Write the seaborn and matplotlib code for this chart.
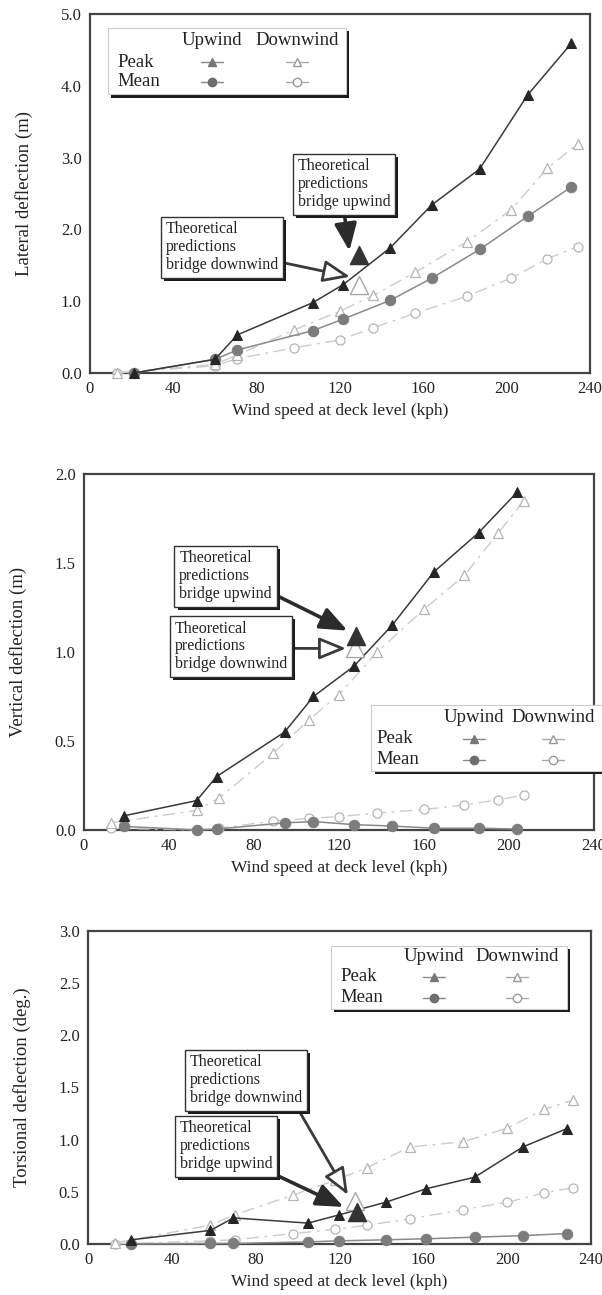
import matplotlib
matplotlib.use("Agg")
import matplotlib.pyplot as plt
import matplotlib.patheffects as pe
from matplotlib.patches import Rectangle
import seaborn as sns

# lateral deflection (m)
lat_up_x = [21, 60, 70.7, 107, 121.5, 144, 164, 187, 210, 231]
lat_up_peak = [0.0, 0.19, 0.53, 0.98, 1.23, 1.74, 2.34, 2.84, 3.87, 4.59]
lat_up_mean = [0.0, 0.19, 0.32, 0.59, 0.75, 1.01, 1.32, 1.72, 2.18, 2.59]
lat_dn_x = [13, 60, 70.7, 98, 120, 136, 156, 181, 202, 219.5, 234]
lat_dn_peak = [0.0, 0.12, 0.25, 0.60, 0.86, 1.08, 1.40, 1.83, 2.27, 2.85, 3.19]
lat_dn_mean = [0.0, 0.10, 0.20, 0.35, 0.46, 0.63, 0.83, 1.07, 1.32, 1.59, 1.76]
lat_theory_up = (129, 1.64)
lat_theory_dn = (129, 1.23)

# vertical deflection (m)
vert_up_x = [19, 53, 62.4, 94.4, 108, 127, 145, 164.7, 185.7, 204]
vert_up_peak = [0.08, 0.165, 0.30, 0.55, 0.75, 0.92, 1.15, 1.45, 1.67, 1.90]
vert_up_mean = [0.02, 0.0, 0.005, 0.04, 0.047, 0.03, 0.022, 0.01, 0.01, 0.005]
vert_dn_x = [12.5, 53, 63.6, 89, 106, 120, 138, 160, 179, 195, 207]
vert_dn_peak = [0.04, 0.11, 0.18, 0.43, 0.62, 0.76, 1.0, 1.24, 1.43, 1.67, 1.85]
vert_dn_mean = [0.01, 0.0, 0.01, 0.05, 0.065, 0.075, 0.095, 0.115, 0.14, 0.17, 0.195]
vert_theory_up = (128, 1.09)
vert_theory_dn = (127.5, 1.02)

# torsional deflection (deg.)
tor_up_x = [20.6, 58.4, 69.4, 105, 120, 142, 161.5, 184.5, 207.5, 228.4]
tor_up_peak = [0.04, 0.13, 0.25, 0.20, 0.28, 0.40, 0.53, 0.64, 0.93, 1.105]
tor_up_mean = [0.0, 0.005, 0.005, 0.02, 0.03, 0.04, 0.05, 0.065, 0.08, 0.10]
tor_dn_x = [12.7, 58.4, 70, 98, 118, 133, 153.6, 179, 200, 217.7, 231.5]
tor_dn_peak = [0.01, 0.18, 0.28, 0.47, 0.61, 0.73, 0.93, 0.98, 1.11, 1.29, 1.38]
tor_dn_mean = [0.0, 0.03, 0.04, 0.10, 0.14, 0.18, 0.24, 0.33, 0.40, 0.49, 0.54]
tor_theory_up = (128.4, 0.31)
tor_theory_dn = (127.5, 0.41)

x_ticks = [0, 40, 80, 120, 160, 200, 240]
note_up = "Theoretical\npredictions\nbridge upwind"
note_dn = "Theoretical\npredictions\nbridge downwind"

sns.set_theme(style="white")
plt.rcParams["font.family"] = ["Liberation Serif", "DejaVu Serif"]

UP_PEAK = dict(color="#3a3a3a", marker="^", ms=7, mfc="#262626", mec="#262626", lw=1.1)
UP_MEAN = dict(color="#8a8a8a", marker="o", ms=7.5, mfc="#7c7c7c", mec="#7c7c7c", lw=1.1)
DN_PEAK = dict(color="#cccccc", marker="^", ms=6.5, mfc="white", mec="#b4b4b4", mew=0.9,
               lw=1.0, linestyle=(0, (9, 4, 2, 4)))
DN_MEAN = dict(color="#cccccc", marker="o", ms=6.5, mfc="white", mec="#b4b4b4", mew=0.9,
               lw=1.0, linestyle=(0, (9, 4, 2, 4)))

SHADOW = [pe.SimplePatchShadow(offset=(2.5, -2.5), shadow_rgbFace="#1a1a1a", alpha=1), pe.Normal()]


def draw_series(ax, up_x, up_peak, up_mean, dn_x, dn_peak, dn_mean, th_up, th_dn):
    sns.lineplot(x=dn_x, y=dn_mean, ax=ax, errorbar=None, clip_on=False, zorder=3, **DN_MEAN)
    sns.lineplot(x=dn_x, y=dn_peak, ax=ax, errorbar=None, clip_on=False, zorder=3, **DN_PEAK)
    sns.lineplot(x=up_x, y=up_mean, ax=ax, errorbar=None, clip_on=False, zorder=4, **UP_MEAN)
    sns.lineplot(x=up_x, y=up_peak, ax=ax, errorbar=None, clip_on=False, zorder=4, **UP_PEAK)
    sns.scatterplot(x=[th_dn[0]], y=[th_dn[1]], ax=ax, marker="^", s=170, color="white",
                    edgecolor="#a8a8a8", linewidth=1.0, zorder=5)
    sns.scatterplot(x=[th_up[0]], y=[th_up[1]], ax=ax, marker="^", s=170, color="#333333",
                    edgecolor="#333333", linewidth=1.0, zorder=5)


def style_axes(ax, ymax, ystep, ylabel):
    ax.set_xlim(0, 240)
    ax.set_ylim(0, ymax)
    ax.set_xticks(x_ticks)
    n = int(round(ymax / ystep))
    ax.set_yticks([i * ystep for i in range(n + 1)])
    ax.set_yticklabels([f"{i * ystep:.1f}" for i in range(n + 1)])
    ax.tick_params(direction="in", length=3, width=0.8, color="#c0c0c0",
                   labelsize=12, labelcolor="#222222", pad=6)
    for s in ax.spines.values():
        s.set_color("#444444")
        s.set_linewidth(1.6)
    ax.set_xlabel("Wind speed at deck level (kph)", fontsize=12.5, color="#222222", labelpad=4)
    ax.set_ylabel(ylabel, fontsize=13.5, color="#222222", labelpad=20)


def draw_key(ax, box, cols, rows):
    x0, y0, x1, y1 = box
    ax.add_patch(Rectangle((x0, y0), x1 - x0, y1 - y0, transform=ax.transAxes, fc="white",
                           ec="#cccccc", lw=0.8, zorder=7, clip_on=False, path_effects=SHADOW))
    xl, xu, xd = cols
    yh, yp, ym = rows
    kw = dict(transform=ax.transAxes, fontsize=13.5, color="#222222", zorder=8, va="center")
    ax.text(xu, yh, "Upwind", ha="center", **kw)
    ax.text(xd, yh, "Downwind", ha="center", **kw)
    ax.text(xl, yp, "Peak", ha="left", **kw)
    ax.text(xl, ym, "Mean", ha="left", **kw)
    d = 0.022
    samples = [(xu, yp, dict(color="#888888", marker="^", ms=6, mfc="#777777", mec="#777777")),
               (xu, ym, dict(color="#888888", marker="o", ms=6, mfc="#6e6e6e", mec="#6e6e6e")),
               (xd, yp, dict(color="#aaaaaa", marker="^", ms=6, mfc="white", mec="#999999")),
               (xd, ym, dict(color="#aaaaaa", marker="o", ms=6, mfc="white", mec="#999999"))]
    for x, y, st in samples:
        ax.plot([x - d, x, x + d], [y, y, y], transform=ax.transAxes, markevery=[1], lw=1,
                zorder=8, clip_on=False, **st)


def note(ax, text, xy, corner, relpos, filled):
    fig = ax.figure
    pos = ax.get_position()
    wpx = pos.width * fig.get_figwidth() * fig.dpi
    hpx = pos.height * fig.get_figheight() * fig.dpi
    pad = 4.5
    xt = (corner[0] + pad / wpx, corner[1] - pad / hpx)
    if filled:
        ap = dict(arrowstyle="-|>,head_width=0.45,head_length=1.1", fc="#2b2b2b", ec="#2b2b2b",
                  lw=2.6, mutation_scale=15)
    else:
        ap = dict(arrowstyle="-|>,head_width=0.45,head_length=1.1", fc="white", ec="#3a3a3a",
                  lw=2.0, mutation_scale=15)
    ap.update(relpos=relpos, shrinkA=0, shrinkB=0)
    ann = ax.annotate(text, xy=xy, xycoords="data", xytext=xt, textcoords="axes fraction",
                      ha="left", va="top", fontsize=11.5, linespacing=1.15, color="#222222",
                      bbox=dict(boxstyle="square,pad=0.3", fc="white", ec="#333333", lw=1.0),
                      arrowprops=ap, zorder=9)
    ann.get_bbox_patch().set_path_effects(SHADOW)


fig = plt.figure(figsize=(6.02, 12.95), dpi=100)

# --- lateral
ax1 = fig.add_axes([0.1495, 0.7120, 0.8306, 0.2772])
draw_series(ax1, lat_up_x, lat_up_peak, lat_up_mean, lat_dn_x, lat_dn_peak, lat_dn_mean,
            lat_theory_up, lat_theory_dn)
style_axes(ax1, 5.0, 1.0, "Lateral deflection (m)")
draw_key(ax1, (0.036, 0.777, 0.512, 0.961), (0.054, 0.244, 0.414), (0.925, 0.866, 0.811))
note(ax1, note_up, (124.5, 1.70), (0.406, 0.61), (0.5, 0.0), True)
note(ax1, note_dn, (124.8, 1.34), (0.142, 0.435), (1.0, 0.22), False)

# --- vertical
ax2 = fig.add_axes([0.1395, 0.3591, 0.8472, 0.2749])
draw_series(ax2, vert_up_x, vert_up_peak, vert_up_mean, vert_dn_x, vert_dn_peak, vert_dn_mean,
            vert_theory_up, vert_theory_dn)
style_axes(ax2, 2.0, 0.5, "Vertical deflection (m)")
draw_key(ax2, (0.563, 0.166, 1.06, 0.351), (0.573, 0.765, 0.92), (0.315, 0.256, 0.197))
note(ax2, note_up, (124, 1.12), (0.178, 0.798), (1.0, 0.17), True)
note(ax2, note_dn, (123.3, 1.02), (0.169, 0.601), (1.0, 0.46), False)

# --- torsional
ax3 = fig.add_axes([0.1462, 0.0394, 0.8355, 0.2417])
draw_series(ax3, tor_up_x, tor_up_peak, tor_up_mean, tor_dn_x, tor_dn_peak, tor_dn_mean,
            tor_theory_up, tor_theory_dn)
style_axes(ax3, 3.0, 0.5, "Torsional deflection (deg.)")
draw_key(ax3, (0.483, 0.751, 0.952, 0.952), (0.501, 0.688, 0.853), (0.917, 0.853, 0.786))
note(ax3, note_dn, (124, 0.47), (0.193, 0.620), (0.95, 0.0), False)
note(ax3, note_up, (122, 0.355), (0.173, 0.409), (0.975, 0.0), True)

fig.savefig("out.png", dpi=100)
